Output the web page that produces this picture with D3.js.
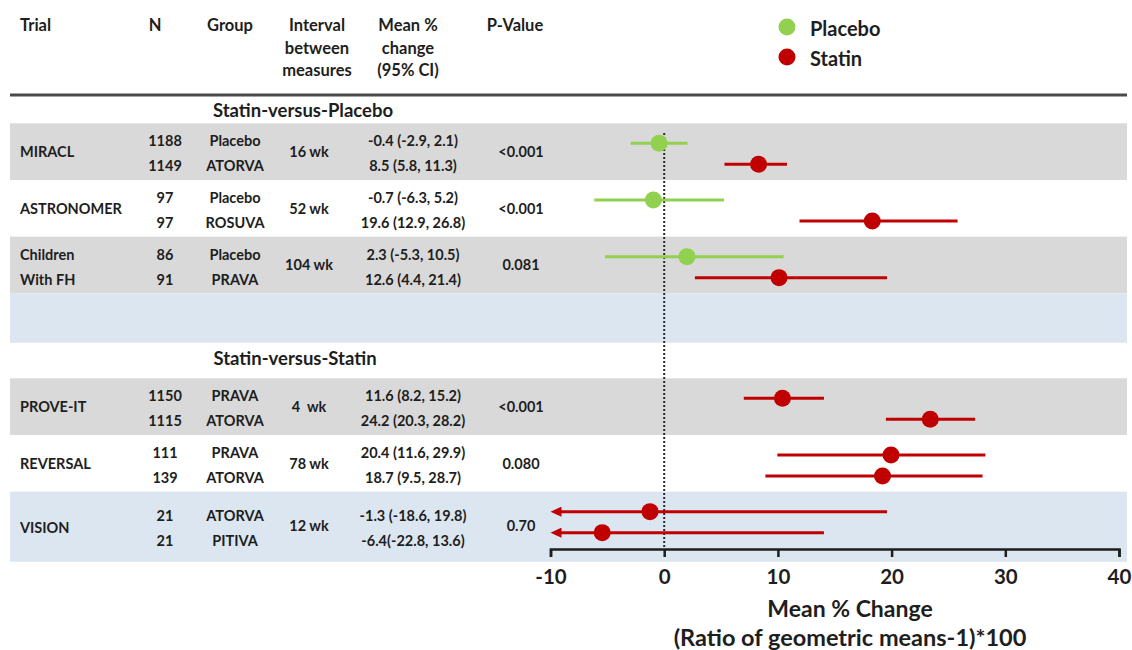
<!DOCTYPE html>
<html>
<head>
<meta charset="utf-8">
<script src="https://cdn.jsdelivr.net/npm/d3@7"></script>
<style>
  body { margin: 0; background: #fff; }
  text { font-family: Lato, "Open Sans", sans-serif; font-weight: bold; fill: #1e1e1e; }
</style>
</head>
<body>
<div id="chart"></div>
<script>
// table + plot data
var sectionTitles = ["Statin-versus-Placebo", "Statin-versus-Statin"];
var trialNames = ["MIRACL", "ASTRONOMER", "Children\nWith FH", "PROVE-IT", "REVERSAL", "VISION"];
var trialSection = [0, 0, 0, 1, 1, 1];
var nValues = [[1188, 1149], [97, 97], [86, 91], [1150, 1115], [111, 139], [21, 21]];
var groupNames = [["Placebo", "ATORVA"], ["Placebo", "ROSUVA"], ["Placebo", "PRAVA"],
                  ["PRAVA", "ATORVA"], ["PRAVA", "ATORVA"], ["ATORVA", "PITIVA"]];
var intervals = ["16 wk", "52 wk", "104 wk", "4  wk", "78 wk", "12 wk"];
var ciLabels = [["-0.4 (-2.9, 2.1)", "8.5 (5.8, 11.3)"],
                ["-0.7 (-6.3, 5.2)", "19.6 (12.9, 26.8)"],
                ["2.3 (-5.3, 10.5)", "12.6 (4.4, 21.4)"],
                ["11.6 (8.2, 15.2)", "24.2 (20.3, 28.2)"],
                ["20.4 (11.6, 29.9)", "18.7 (9.5, 28.7)"],
                ["-1.3 (-18.6, 19.8)", "-6.4(-22.8, 13.6)"]];
var pValues = ["<0.001", "<0.001", "0.081", "<0.001", "0.080", "0.70"];
// arm type: placebo or statin
var armType = [["Placebo", "Statin"], ["Placebo", "Statin"], ["Placebo", "Statin"],
               ["Statin", "Statin"], ["Statin", "Statin"], ["Statin", "Statin"]];
// plotted estimates (as drawn in the figure)
var plotMean = [[-0.45, 8.3], [-0.95, 18.3], [2.0, 10.1], [10.4, 23.4], [19.95, 19.2], [-1.25, -5.45]];
var plotLow  = [[-2.95, 5.3], [-6.15, 11.9], [-5.2, 2.7], [7.0, 19.5], [9.95, 8.9], [-18.6, -22.8]];
var plotHigh = [[2.05, 10.8], [5.25, 25.8], [10.5, 19.6], [14.05, 27.35], [28.25, 28.0], [19.6, 14.05]];
var tickValues = [-10, 0, 10, 20, 30, 40];
var legendItems = ["Placebo", "Statin"];

var colors = { Placebo: "#92d050", Statin: "#c00000" };
var bandFills = ["#d9d9d9", "#ffffff", "#d9d9d9", "#d9d9d9", "#ffffff", "#dce6f1"];
var blueFill = "#dce6f1";

var svgWidth = 1132, svgHeight = 650;
var svg = d3.select("#chart").append("svg")
  .attr("width", svgWidth)
  .attr("height", svgHeight);

var x = d3.scaleLinear().domain([-10, 40]).range([550.5, 1119]);
var axisY = 549;

// each section gets its own band scale
var sectionBands = [
  d3.scaleBand().domain([0, 1, 2]).range([123.3, 293.3]),
  d3.scaleBand().domain([3, 4, 5]).range([378.3, 548.3])
];
function bandTop(i) { return sectionBands[trialSection[i]](i); }
var bandH = sectionBands[0].bandwidth();

var dotOffset = d3.scalePoint().domain([0, 1]).range([20, 41]);
var textOffset = d3.scalePoint().domain([0, 1]).range([17.5, 42.5]);

var rowsIdx = d3.range(trialNames.length);

// background bands
svg.selectAll("rect.band").data(rowsIdx).enter().append("rect")
  .attr("class", "band")
  .attr("x", 10).attr("width", 1117)
  .attr("y", d => bandTop(d))
  .attr("height", d => d === trialNames.length - 1 ? bandH + 13.5 : bandH)
  .attr("fill", d => bandFills[d]);

svg.append("rect")
  .attr("x", 10).attr("width", 1117)
  .attr("y", 293.3).attr("height", 49.5)
  .attr("fill", blueFill);

// header
var headerCols = [
  { x: 20, anchor: "start", lines: ["Trial"] },
  { x: 155, anchor: "middle", lines: ["N"] },
  { x: 230, anchor: "middle", lines: ["Group"] },
  { x: 317, anchor: "middle", lines: ["Interval", "between", "measures"] },
  { x: 408, anchor: "middle", lines: ["Mean %", "change", "(95% CI)"] },
  { x: 515, anchor: "middle", lines: ["P-Value"] }
];
headerCols.forEach(function(c) {
  c.lines.forEach(function(t, k) {
    svg.append("text")
      .attr("x", c.x).attr("y", 25 + k * 22.5)
      .attr("text-anchor", c.anchor)
      .attr("dominant-baseline", "central")
      .style("font-size", "16.5px")
      .text(t);
  });
});

svg.append("line")
  .attr("x1", 10).attr("x2", 1127)
  .attr("y1", 95).attr("y2", 95)
  .attr("stroke", "#4a4a4a").attr("stroke-width", 3);

// section titles
svg.append("text").attr("x", 303).attr("y", 110).attr("text-anchor", "middle")
  .attr("dominant-baseline", "central").style("font-size", "18.5px").text(sectionTitles[0]);
svg.append("text").attr("x", 295).attr("y", 358).attr("text-anchor", "middle")
  .attr("dominant-baseline", "central").style("font-size", "18.5px").text(sectionTitles[1]);

// table body
var body = svg.append("g").style("font-size", "14.5px");
rowsIdx.forEach(function(i) {
  var top = bandTop(i);
  var mid = top + bandH / 2;
  var shift = i === trialNames.length - 1 ? 6 : 0;
  var nameLines = trialNames[i].split("\n");
  nameLines.forEach(function(t, k) {
    body.append("text").attr("x", 20)
      .attr("y", nameLines.length > 1 ? top + textOffset(k) : mid + shift + (shift ? 2 : 0))
      .attr("dominant-baseline", "central").text(t);
  });
  [0, 1].forEach(function(k) {
    var yy = top + textOffset(k) + shift;
    body.append("text").attr("x", 165).attr("y", yy).attr("text-anchor", "middle")
      .attr("dominant-baseline", "central").text(nValues[i][k]);
    body.append("text").attr("x", 235).attr("y", yy).attr("text-anchor", "middle")
      .attr("dominant-baseline", "central").text(groupNames[i][k]);
    body.append("text").attr("x", 413).attr("y", yy).attr("text-anchor", "middle")
      .attr("dominant-baseline", "central").text(ciLabels[i][k]);
  });
  body.append("text").attr("x", 309).attr("y", mid + shift).attr("text-anchor", "middle")
    .attr("dominant-baseline", "central").style("white-space", "pre").text(intervals[i]);
  body.append("text").attr("x", 521).attr("y", mid + shift).attr("text-anchor", "middle")
    .attr("dominant-baseline", "central").text(pValues[i]);
});

// arrowhead for clipped intervals
svg.append("defs").append("marker")
  .attr("id", "arrow")
  .attr("markerUnits", "userSpaceOnUse")
  .attr("markerWidth", 12).attr("markerHeight", 10)
  .attr("refX", 1).attr("refY", 5)
  .attr("orient", "auto-start-reverse")
  .append("path")
  .attr("d", "M0,0 L11,5 L0,10 Z")
  .attr("fill", colors.Statin);

// zero reference line
svg.append("line")
  .attr("x1", x(0)).attr("x2", x(0))
  .attr("y1", 133).attr("y2", axisY)
  .attr("stroke", "#2a2a2a").attr("stroke-width", 2)
  .attr("stroke-dasharray", "2,2");

// estimates
var points = [];
rowsIdx.forEach(function(i) {
  [0, 1].forEach(function(k) {
    points.push({
      y: bandTop(i) + dotOffset(k),
      mean: plotMean[i][k], lo: plotLow[i][k], hi: plotHigh[i][k],
      arm: armType[i][k]
    });
  });
});

var lo = x.domain()[0];
svg.selectAll("line.ci").data(points).enter().append("line")
  .attr("class", "ci")
  .attr("x1", d => d.lo < lo ? x(lo) + 10 : x(d.lo))
  .attr("x2", d => x(d.hi))
  .attr("y1", d => d.y).attr("y2", d => d.y)
  .attr("stroke", d => colors[d.arm])
  .attr("stroke-width", 3)
  .attr("marker-start", d => d.lo < lo ? "url(#arrow)" : null);

svg.selectAll("circle.est").data(points).enter().append("circle")
  .attr("class", "est")
  .attr("cx", d => x(d.mean))
  .attr("cy", d => d.y)
  .attr("r", 8.5)
  .attr("fill", d => colors[d.arm]);

// x axis
var bottomAxis = d3.axisBottom(x).tickValues(tickValues)
  .tickFormat(d => String(d))
  .tickSize(8).tickSizeOuter(8).tickPadding(12);
var axisG = svg.append("g")
  .attr("transform", `translate(0, ${axisY})`)
  .call(bottomAxis);
axisG.select(".domain").attr("stroke", "#1e1e1e").attr("stroke-width", 2.5);
axisG.selectAll(".tick line").attr("stroke", "#1e1e1e").attr("stroke-width", 2.5);
axisG.selectAll(".tick text")
  .style("font-family", "Lato, sans-serif").style("font-weight", "bold")
  .style("font-size", "20.5px").attr("fill", "#1e1e1e");

// axis title
svg.append("text").attr("x", 850).attr("y", 608).attr("text-anchor", "middle")
  .attr("dominant-baseline", "central").style("font-size", "23px").text("Mean % Change");
svg.append("text").attr("x", 850).attr("y", 637).attr("text-anchor", "middle")
  .attr("dominant-baseline", "central").style("font-size", "23.5px").text("(Ratio of geometric means-1)*100");

// legend
var legend = svg.append("g");
legendItems.forEach(function(name, k) {
  legend.append("circle").attr("cx", 787).attr("cy", 27 + k * 30).attr("r", 8.5)
    .attr("fill", colors[name]);
  legend.append("text").attr("x", 810).attr("y", 28 + k * 30)
    .attr("dominant-baseline", "central").style("font-size", "20px").text(name);
});
</script>
</body>
</html>
